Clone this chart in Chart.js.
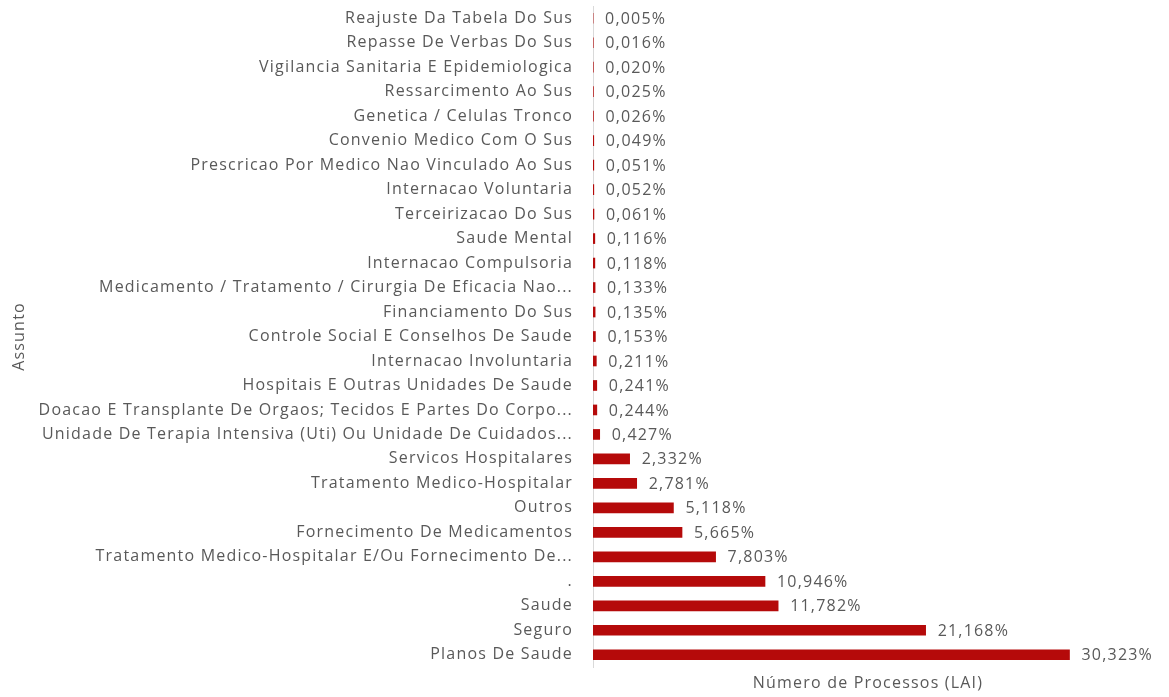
<!DOCTYPE html>
<html>
<head>
<meta charset="utf-8">
<script src="https://cdn.jsdelivr.net/npm/chart.js@4/dist/chart.umd.min.js"></script>
<style>
  html, body { margin: 0; padding: 0; background: #fff; }
  #wrap { width: 1169px; height: 697px; }
</style>
</head>
<body>
<div id="wrap"><canvas id="chart" width="1169" height="697"></canvas></div>
<script>
// -----------------------------
// Data
// -----------------------------
const assuntos = [
  "Reajuste Da Tabela Do Sus",
  "Repasse De Verbas Do Sus",
  "Vigilancia Sanitaria E Epidemiologica",
  "Ressarcimento Ao Sus",
  "Genetica / Celulas Tronco",
  "Convenio Medico Com O Sus",
  "Prescricao Por Medico Nao Vinculado Ao Sus",
  "Internacao Voluntaria",
  "Terceirizacao Do Sus",
  "Saude Mental",
  "Internacao Compulsoria",
  "Medicamento / Tratamento / Cirurgia De Eficacia Nao...",
  "Financiamento Do Sus",
  "Controle Social E Conselhos De Saude",
  "Internacao Involuntaria",
  "Hospitais E Outras Unidades De Saude",
  "Doacao E Transplante De Orgaos; Tecidos E Partes Do Corpo...",
  "Unidade De Terapia Intensiva (Uti) Ou Unidade De Cuidados...",
  "Servicos Hospitalares",
  "Tratamento Medico-Hospitalar",
  "Outros",
  "Fornecimento De Medicamentos",
  "Tratamento Medico-Hospitalar E/Ou Fornecimento De...",
  ".",
  "Saude",
  "Seguro",
  "Planos De Saude"
];

const percentuais = [
  0.005, 0.016, 0.020, 0.025, 0.026, 0.049, 0.051, 0.052, 0.061,
  0.116, 0.118, 0.133, 0.135, 0.153, 0.211, 0.241, 0.244, 0.427,
  2.332, 2.781, 5.118, 5.665, 7.803, 10.946, 11.782, 21.168, 30.323
];

const xMax = 35;

// -----------------------------
// Styles
// -----------------------------
const FONT = "'Open Sans', sans-serif";
const TEXT = "#595959";
const BAR = "#b50a0a";
const SPACING = "1.2px"; // reference text is a bit stretched

const fmt = v => v.toFixed(3).replace(".", ",") + "%";

// wider letter spacing (canvas state gets reset on resize, so set it often)
const spacing = {
  id: "spacing",
  beforeLayout(chart) { chart.ctx.letterSpacing = SPACING; },
  beforeDraw(chart) { chart.ctx.letterSpacing = SPACING; }
};

// value labels to the right of each bar
const valueLabels = {
  id: "valueLabels",
  afterDatasetsDraw(chart) {
    const ctx = chart.ctx;
    const meta = chart.getDatasetMeta(0);
    ctx.save();
    ctx.font = "16px " + FONT;
    ctx.fillStyle = TEXT;
    ctx.textAlign = "left";
    ctx.textBaseline = "middle";
    meta.data.forEach((bar, i) => {
      ctx.fillText(fmt(percentuais[i]), bar.x + 12, bar.y + 1);
    });
    ctx.restore();
  }
};

const ctx = document.getElementById("chart").getContext("2d");

new Chart(ctx, {
  type: "bar",
  data: {
    labels: assuntos,
    datasets: [{
      data: percentuais,
      backgroundColor: BAR,
      barThickness: 10
    }]
  },
  options: {
    indexAxis: "y",
    responsive: false,
    animation: false,
    layout: { padding: { top: 6, left: 0, right: 26, bottom: 0 } },
    plugins: {
      legend: { display: false },
      tooltip: { enabled: false }
    },
    scales: {
      x: {
        min: 0,
        max: xMax,
        grid: { display: false, drawTicks: false },
        border: { display: false },
        ticks: { display: false },
        title: {
          display: true,
          text: "Número de Processos (LAI)",
          color: TEXT,
          font: { family: FONT, size: 16 },
          padding: { top: 2, bottom: 4 }
        },
        afterFit(scale) { scale.height = 30; }
      },
      y: {
        grid: { display: false, drawTicks: false },
        border: { display: true, color: "#d9d9d9", width: 1 },
        ticks: {
          autoSkip: false,
          color: TEXT,
          padding: 20,
          font: { family: FONT, size: 16 }
        },
        title: {
          display: true,
          text: "Assunto",
          color: TEXT,
          font: { family: FONT, size: 16 },
          padding: { top: 10, bottom: 0 }
        },
        afterFit(scale) {
          scale.width = 593;
          scale.paddingTop = 0;
          scale.paddingBottom = 0;
        }
      }
    }
  },
  plugins: [spacing, valueLabels]
});
</script>
</body>
</html>
